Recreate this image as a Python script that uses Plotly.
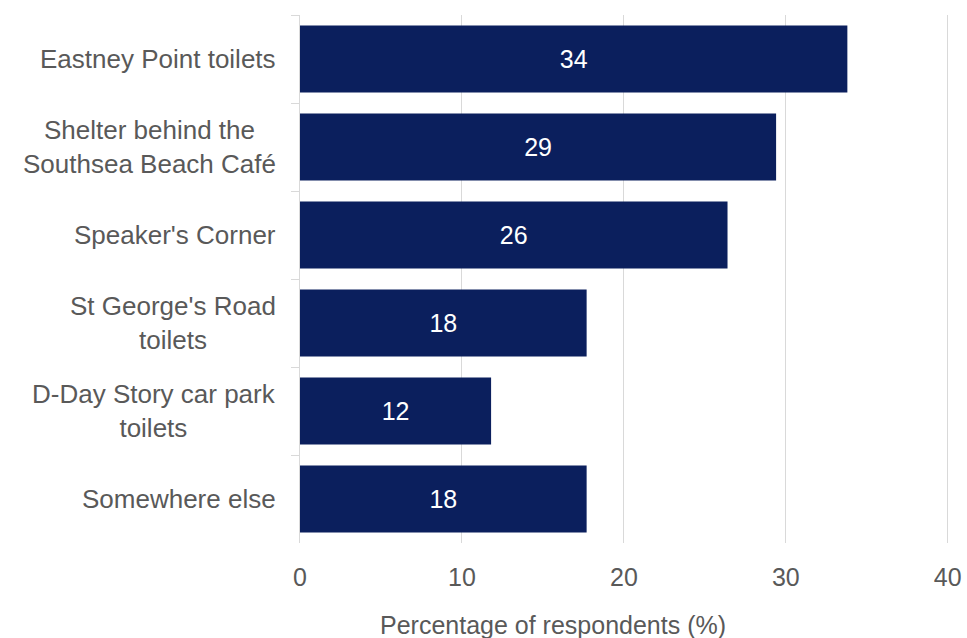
import plotly.graph_objects as go

# Survey results: where respondents go (percentage of respondents)
locations = [
    "Eastney Point toilets",
    "Shelter behind the<br>Southsea Beach Café",
    "Speaker's Corner",
    "St George's Road<br>toilets",
    "D-Day Story car park<br>toilets",
    "Somewhere else",
]
percentages = [33.8, 29.4, 26.4, 17.7, 11.8, 17.7]
x_ticks = [0, 10, 20, 30, 40]

NAVY = "#0b1f5d"
GREY_TEXT = "#595959"
GRID = "#d9d9d9"
FONT = "Liberation Sans, Arial, sans-serif"

fig = go.Figure(
    go.Bar(
        x=percentages,
        y=locations,
        orientation="h",
        marker=dict(color=NAVY, line=dict(width=0)),
        texttemplate="%{x:.0f}",
        textposition="inside",
        insidetextanchor="middle",
        textfont=dict(family=FONT, size=25, color="white"),
        hoverinfo="skip",
    )
)

fig.update_layout(
    width=967,
    height=638,
    margin=dict(l=300, r=16, t=15, b=95),
    paper_bgcolor="white",
    plot_bgcolor="white",
    bargap=0.24,
    showlegend=False,
    font=dict(family=FONT, color=GREY_TEXT, size=25),
)

fig.update_xaxes(
    range=[0, 40.2],
    tickvals=x_ticks,
    automargin=False,
    ticklabeloverflow="allow",
    showgrid=True,
    gridcolor=GRID,
    gridwidth=1,
    zeroline=False,
    showline=False,
    ticks="",
    ticklabelstandoff=17,
    tickfont=dict(family=FONT, size=25, color=GREY_TEXT),
)

fig.update_yaxes(
    autorange="reversed",
    automargin=False,
    showgrid=False,
    showline=True,
    linecolor=GRID,
    linewidth=1,
    ticks="outside",
    tickson="boundaries",
    ticklen=8,
    tickcolor=GRID,
    showticklabels=False,
)

# Category labels, centred line-by-line and right-aligned against the axis
for name in locations:
    fig.add_annotation(
        text=name,
        xref="paper",
        yref="y",
        x=0,
        y=name,
        xanchor="right",
        yanchor="middle",
        xshift=-22,
        align="center",
        showarrow=False,
        font=dict(family=FONT, size=26, color=GREY_TEXT),
    )

fig.add_annotation(
    text="Percentage of respondents (%)",
    xref="paper",
    yref="paper",
    x=0.389,
    y=-0.155,
    xanchor="center",
    yanchor="middle",
    showarrow=False,
    font=dict(family=FONT, size=25, color=GREY_TEXT),
)

fig.write_html("out.html")
